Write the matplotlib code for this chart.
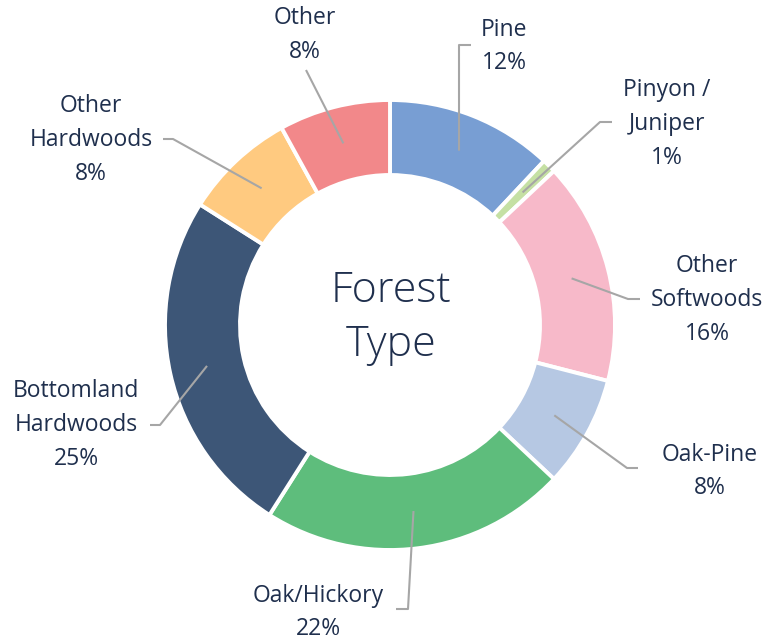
import numpy as np
import matplotlib
matplotlib.use("Agg")
import matplotlib.pyplot as plt

categories = ["Pine", "Pinyon /\nJuniper", "Other\nSoftwoods", "Oak-Pine",
              "Oak/Hickory", "Bottomland\nHardwoods", "Other\nHardwoods", "Other"]
values = [12, 1, 16, 8, 22, 25, 8, 8]
colors = ["#789ED3", "#C5E0A4", "#F7B9C9", "#B6C8E3",
          "#5EBD7C", "#3D5677", "#FFCA80", "#F2888A"]

W, H = 773, 641
fig = plt.figure(figsize=(W / 100, H / 100), dpi=100)
ax = fig.add_axes([0, 0, 1, 1])
ax.set_xlim(0, W)
ax.set_ylim(0, H)
ax.set_aspect("equal")
ax.axis("off")

cx, cy = 390, H - 325
R, width = 225, 75
ax.pie(values, colors=colors, startangle=90, counterclock=False,
       radius=R, center=(cx, cy),
       wedgeprops=dict(width=width, edgecolor="white", linewidth=2.8))
ax.set_xlim(0, W)
ax.set_ylim(0, H)

text_color = "#1F2F4D"
line_color = "#A6A6A6"
font = ["Open Sans", "DejaVu Sans"]

# label layout (pixel coords from top): text center, elbow end, elbow corner
layout = [
    ((504, 46.5), (471, 45), (459, 45)),
    ((667, 124), (612, 122), (600, 122)),
    ((707, 300), (640, 299), (628, 299)),
    ((710, 471.5), (638, 468), (627, 468)),
    ((318, 612.5), (396, 609), (408, 609)),
    ((76, 425), (150, 425), (160, 425)),
    ((91, 140), (163, 139), (173, 139)),
    ((305, 35), None, (306, 70)),
]

total = sum(values)
cum = 0
r_mid = R - width / 2
for cat, v, (tpos, p_end, p_corner) in zip(categories, values, layout):
    mid = (cum + v / 2) / total * 360
    cum += v
    theta = np.deg2rad(90 - mid)
    ax_x = cx + r_mid * np.cos(theta)
    ax_y = cy + r_mid * np.sin(theta)
    xs = [ax_x, p_corner[0]]
    ys = [ax_y, H - p_corner[1]]
    if p_end is not None:
        xs.append(p_end[0])
        ys.append(H - p_end[1])
    ax.plot(xs, ys, color=line_color, lw=1.5, solid_capstyle="butt")
    ax.text(tpos[0], H - tpos[1], f"{cat}\n{v}%", ha="center", va="center",
            multialignment="center", fontsize=16.5, color=text_color,
            family=font, linespacing=1.55)

ax.text(cx + 1, H - 318, "Forest\nType", ha="center", va="center",
        fontsize=31, color=text_color, family=font, fontweight="light",
        linespacing=1.35)

fig.savefig("out.png", dpi=100, facecolor="white")
